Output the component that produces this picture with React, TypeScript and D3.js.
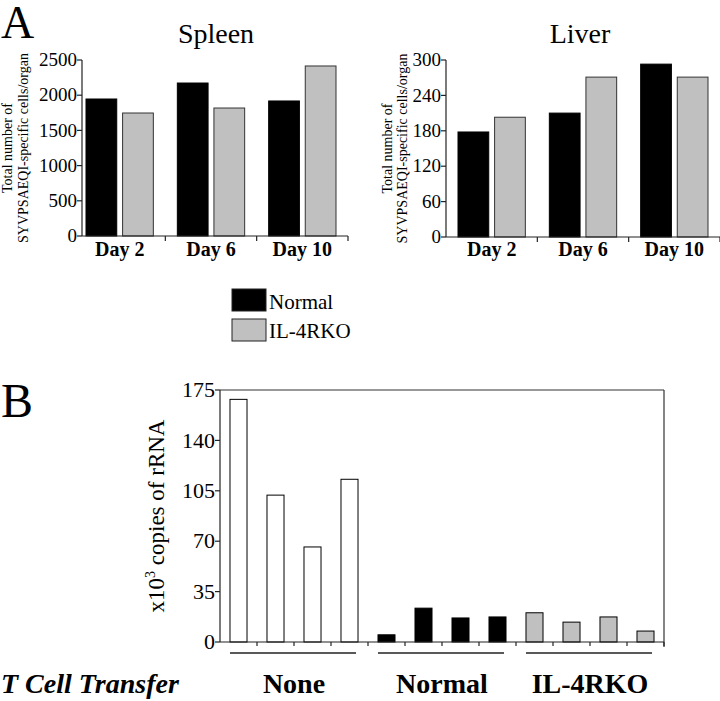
import React from 'react';
import * as d3 from 'd3';

const days = ['Day 2', 'Day 6', 'Day 10'];
const seriesNames = ['Normal', 'IL-4RKO'];
const spleenNormal = [1946, 2173, 1918];
const spleenKO = [1747, 1818, 2415];
const liverNormal = [178, 210, 293];
const liverKO = [203, 271, 271];
const spleenTicks = [0, 500, 1000, 1500, 2000, 2500];
const liverTicks = [0, 60, 120, 180, 240, 300];

const rnaSamples = ['n1', 'n2', 'n3', 'n4', 'w1', 'w2', 'w3', 'w4', 'k1', 'k2', 'k3', 'k4'];
const rnaValues = [168.5, 102, 66, 113, 5, 23.5, 16.7, 17.4, 20.3, 13.8, 17.4, 7.6];
const rnaGroupIndex = [0, 0, 0, 0, 1, 1, 1, 1, 2, 2, 2, 2];
const rnaGroups = ['None', 'Normal', 'IL-4RKO'];
const rnaTicks = [0, 35, 70, 105, 140, 175];

const GRAY = '#c0c0c0';
const seriesFill = ['#000', GRAY];
const seriesStroke = ['#000', '#333'];
const groupFill = ['#fff', '#000', GRAY];

type PanelProps = {
  title: string;
  titleX: number;
  normal: number[];
  ko: number[];
  ticks: number[];
  axisX: number;
  bandRange: [number, number];
  yRange: [number, number];
  labelX: [number, number];
};

function Panel(p: PanelProps) {
  const x = d3.scaleBand<string>().domain(days).range(p.bandRange);
  const sub = d3
    .scaleBand<string>()
    .domain(seriesNames)
    .range([12, x.bandwidth() - 12])
    .paddingInner(0.16);
  const y = d3.scaleLinear().domain([0, p.ticks[p.ticks.length - 1]]).range(p.yRange);
  const vals = [p.normal, p.ko];
  const y0 = y(0);
  const labelCY = (p.yRange[0] + p.yRange[1]) / 2;
  return (
    <g>
      <text x={p.titleX} y={43} textAnchor="middle" fontSize={28}>
        {p.title}
      </text>
      {days.map((d, i) =>
        seriesNames.map((s, j) => {
          const v = vals[j][i];
          const bx = (x(d) as number) + (sub(s) as number);
          return (
            <rect
              key={d + s}
              x={bx}
              y={y(v)}
              width={sub.bandwidth()}
              height={y0 - y(v)}
              fill={seriesFill[j]}
              stroke={seriesStroke[j]}
              strokeWidth={1}
            />
          );
        })
      )}
      <line x1={p.axisX} x2={p.axisX} y1={y0} y2={p.yRange[1]} stroke="#222" strokeWidth={1.2} />
      <line x1={p.axisX} x2={p.bandRange[1]} y1={y0} y2={y0} stroke="#222" strokeWidth={1.2} />
      {p.ticks.map((t) => (
        <g key={t}>
          <line x1={p.axisX - 5} x2={p.axisX} y1={y(t)} y2={y(t)} stroke="#222" strokeWidth={1.2} />
          <text x={p.axisX - 5} y={y(t)} dy="0.33em" textAnchor="end" fontSize={19}>
            {t}
          </text>
        </g>
      ))}
      {days.map((d) => (
        <g key={d}>
          <line
            x1={(x(d) as number) + x.bandwidth()}
            x2={(x(d) as number) + x.bandwidth()}
            y1={y0}
            y2={y0 + 5}
            stroke="#222"
            strokeWidth={1.2}
          />
          <text
            x={(x(d) as number) + x.bandwidth() / 2}
            y={256}
            textAnchor="middle"
            fontWeight="bold"
            fontSize={20}
          >
            {d}
          </text>
        </g>
      ))}
      <text
        transform={`translate(${p.labelX[0]},${labelCY}) rotate(-90)`}
        textAnchor="middle"
        fontSize={14}
      >
        Total number of
      </text>
      <text
        transform={`translate(${p.labelX[1]},${labelCY}) rotate(-90)`}
        textAnchor="middle"
        fontSize={14}
      >
        SYVPSAEQI-specific cells/organ
      </text>
    </g>
  );
}

function PanelB() {
  const x = d3
    .scaleBand<string>()
    .domain(rnaSamples)
    .range([220, 664])
    .paddingInner(0.54)
    .paddingOuter(0.27);
  const step = x.step();
  const left = 220;
  const y = d3.scaleLinear().domain([0, 175]).range([642, 390]);
  const y0 = y(0);
  const groups = rnaGroups.map((g, gi) => {
    const idx = rnaSamples.filter((_, i) => rnaGroupIndex[i] === gi);
    const x1 = x(idx[0]) as number;
    const x2 = (x(idx[idx.length - 1]) as number) + x.bandwidth();
    return { g, x1, x2 };
  });
  return (
    <g>
      <line x1={left} x2={664} y1={y(175)} y2={y(175)} stroke="#333" strokeWidth={1.2} />
      <line x1={664} x2={664} y1={y(175)} y2={y0 + 5} stroke="#333" strokeWidth={1.2} />
      {rnaSamples.map((s, i) => (
        <rect
          key={s}
          x={x(s)}
          y={y(rnaValues[i])}
          width={x.bandwidth()}
          height={y0 - y(rnaValues[i])}
          fill={groupFill[rnaGroupIndex[i]]}
          stroke="#000"
          strokeWidth={1}
        />
      ))}
      <line x1={left} x2={left} y1={y0} y2={y(175)} stroke="#222" strokeWidth={1.2} />
      <line x1={left} x2={664} y1={y0} y2={y0} stroke="#222" strokeWidth={1.2} />
      {rnaTicks.map((t) => (
        <g key={t}>
          <line x1={left - 5} x2={left} y1={y(t)} y2={y(t)} stroke="#222" strokeWidth={1.2} />
          <text x={left - 5} y={y(t)} dy="0.33em" textAnchor="end" fontSize={22}>
            {t}
          </text>
        </g>
      ))}
      {rnaSamples.map((s, i) => (
        <line
          key={'t' + s}
          x1={left + step * (i + 1)}
          x2={left + step * (i + 1)}
          y1={y0}
          y2={y0 + 4}
          stroke="#222"
          strokeWidth={1.2}
        />
      ))}
      {groups.map((g) => (
        <g key={g.g}>
          <line x1={g.x1} x2={g.x2 - 2} y1={653} y2={653} stroke="#222" strokeWidth={1.5} />
          <text
            x={(g.x1 + g.x2) / 2}
            y={693}
            textAnchor="middle"
            fontWeight="bold"
            fontSize={28}
          >
            {g.g}
          </text>
        </g>
      ))}
      <text x={1} y={693} fontWeight="bold" fontStyle="italic" fontSize={28}>
        T Cell Transfer
      </text>
      <text
        transform={`translate(164,${(y(0) + y(175)) / 2}) rotate(-90)`}
        textAnchor="middle"
        fontSize={23}
      >
        x10
        <tspan fontSize={14} dy={-9}>
          3
        </tspan>
        <tspan dy={9}> copies of rRNA</tspan>
      </text>
    </g>
  );
}

export default function App() {
  return (
    <svg
      width={720}
      height={701}
      style={{
        position: 'absolute',
        left: 0,
        top: 0,
        background: '#fff',
        fontFamily: "'Liberation Serif', 'Times New Roman', Times, serif",
      }}
    >
      <rect width={720} height={701} fill="#fff" />
      <text x={1} y={38} fontSize={46}>
        A
      </text>
      <Panel
        title="Spleen"
        titleX={216}
        normal={spleenNormal}
        ko={spleenKO}
        ticks={spleenTicks}
        axisX={82}
        bandRange={[74, 348]}
        yRange={[236, 60]}
        labelX={[12, 28]}
      />
      <Panel
        title="Liver"
        titleX={580}
        normal={liverNormal}
        ko={liverKO}
        ticks={liverTicks}
        axisX={446}
        bandRange={[446, 720]}
        yRange={[237, 60]}
        labelX={[392, 407]}
      />
      {seriesNames.map((s, j) => (
        <g key={s}>
          <rect
            x={232}
            y={289 + j * 30}
            width={34}
            height={22}
            fill={seriesFill[j]}
            stroke="#222"
            strokeWidth={1}
          />
          <text x={269} y={309 + j * 29} fontSize={21}>
            {s}
          </text>
        </g>
      ))}
      <text x={1} y={417} fontSize={48}>
        B
      </text>
      <PanelB />
    </svg>
  );
}
